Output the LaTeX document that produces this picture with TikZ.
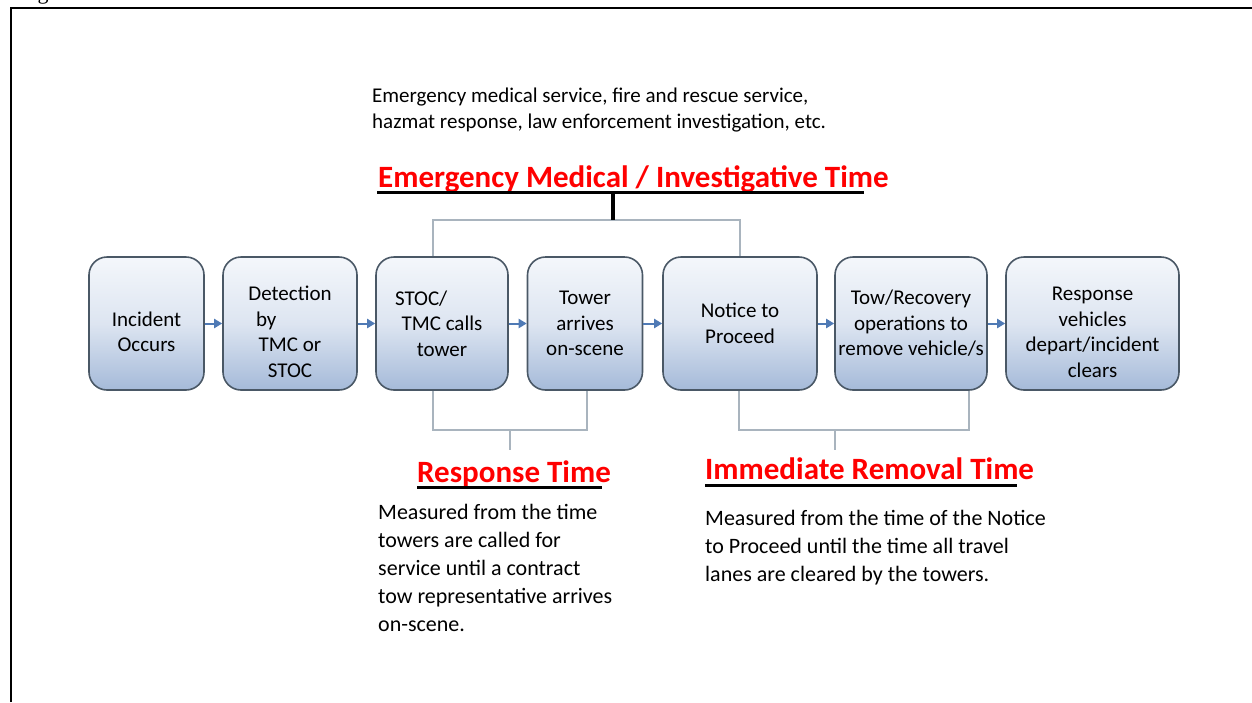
\documentclass[tikz,border=0pt]{standalone}
\usepackage{fontspec}
\setmainfont{Carlito}
\newfontfamily\capfont{Liberation Serif}
\usetikzlibrary{arrows.meta}
\definecolor{stageedge}{HTML}{4A5866}
\definecolor{stagetop}{HTML}{F4F7FB}
\definecolor{stagemid}{HTML}{DDE5F1}
\definecolor{stagebot}{HTML}{A5BAD9}
\definecolor{flowblue}{HTML}{4F7AB5}
\definecolor{bracketgray}{HTML}{A9B4BE}
\newcommand{\stagepad}{\rule{0pt}{31pt}}% pushes the lines of a stage down a little
\tikzset{stage/.style={draw=stageedge,line width=1.6pt,rounded corners=18pt,
		top color=stagetop,bottom color=stagebot,middle color=stagemid,
		minimum height=133pt,minimum width=#1,inner sep=0pt,align=center,
		font=\fontsize{21}{25.6}\selectfont},
		 stage/.default=120pt}
\tikzset{flow/.style={draw=flowblue,line width=2pt,-{Triangle[length=8pt,width=9pt]}}}
\tikzset{bracket/.style={draw=bracketgray,line width=2pt}}
\tikzset{heading/.style={text=red,inner sep=0pt,anchor=base west,
		font=\fontsize{31}{37}\selectfont\bfseries}}
\tikzset{underbar/.style={line width=3pt}}
\tikzset{note/.style={inner sep=0pt,anchor=north west,align=left}}

\begin{document}
\begin{tikzpicture}[x=1pt,y=-1pt]
	\useasboundingbox (0,0) rectangle (1252,702);
	\begin{scope}
		\clip (0,0) rectangle (1252,702);
		\node[inner sep=0pt,anchor=base,font=\capfont\fontsize{22}{22}\selectfont]
			(figcut) at (43,-1) {g};
	\end{scope}
	\draw[line width=2pt] (11,702) -- (11,8) -- (1252,8);
	% the seven stages
	\node[stage=115pt] (incident) at (146.5,323.5) {\stagepad Incident\\Occurs};
	\node[stage=134pt] (detect) at (290,323.5)
		{\stagepad Detection\\\makebox[68pt][l]{by}\\TMC or\\STOC};
	\node[stage=132pt] (stoc) at (442,323.5)
		{\makebox[94pt][l]{STOC/}\\TMC calls\\tower};
	\node[stage=115pt] (tower) at (585,323.5) {Tower\\arrives\\on-scene};
	\node[stage=154pt] (notice) at (740,323.5) {Notice to\\Proceed};
	\node[stage=152pt] (recovery) at (911,323.5)
		{Tow/Recovery\\operations to\\remove vehicle/s};
	\node[stage=173pt] (depart) at (1092.5,323.5)
		{\stagepad Response\\vehicles\\depart/incident\\clears};
	\foreach \a/\b in {incident/detect,detect/stoc,stoc/tower,tower/notice,
		notice/recovery,recovery/depart}
		\draw[flow] (\a) -- (\b);
	% emergency medical / investigative time
	\node[note,font=\fontsize{21}{26}\selectfont] (emtnote) at (372,88)
		{Emergency medical service, fire and rescue service,\\
		 hazmat response, law enforcement investigation, etc.};
	\node[heading] (emt) at (378,187) {Emergency Medical / Investigative Time};
	\coordinate (emtbar) at (613,192);
	\coordinate (emtL) at (433,220);
	\coordinate (emtM) at (613,220);
	\coordinate (emtR) at (740,220);
	\draw[underbar] (377,192) -- (864,192);
	\draw[bracket] (emtL |- stoc.north) -- (emtL) -- (emtR) -- (notice.north);
	\draw[line width=4pt] (emtbar) -- (emtM);
	% response time
	\coordinate (rtL) at (433,430);
	\coordinate (rtM) at (510,430);
	\coordinate (rtR) at (587,430);
	\draw[bracket] (rtL |- stoc.south) -- (rtL) -- (rtR) -- (rtR |- tower.south);
	\draw[bracket] (rtM) -- ++(0,20);
	\node[heading] (rt) at (417,482) {Response Time};
	\draw[underbar] (417,487) -- (602,487);
	\node[note,font=\fontsize{22}{28}\selectfont] (rtnote) at (378,504.5)
		{Measured from the time\\towers are called for\\service until a contract\\
		 tow representative arrives\\on-scene.};
	% immediate removal time
	\coordinate (irtL) at (739,430);
	\coordinate (irtM) at (835,430);
	\coordinate (irtR) at (969,430);
	\draw[bracket] (irtL |- notice.south) -- (irtL) -- (irtR) -- (irtR |- recovery.south);
	\draw[bracket] (irtM) -- ++(0,20);
	\node[heading] (irt) at (705,479) {Immediate Removal Time};
	\draw[underbar] (705,485) -- (1017,485);
	\node[note,font=\fontsize{22}{28}\selectfont] (irtnote) at (705,510.5)
		{Measured from the time of the Notice\\to Proceed until the time all travel\\
		 lanes are cleared by the towers.};
\end{tikzpicture}
\end{document}
